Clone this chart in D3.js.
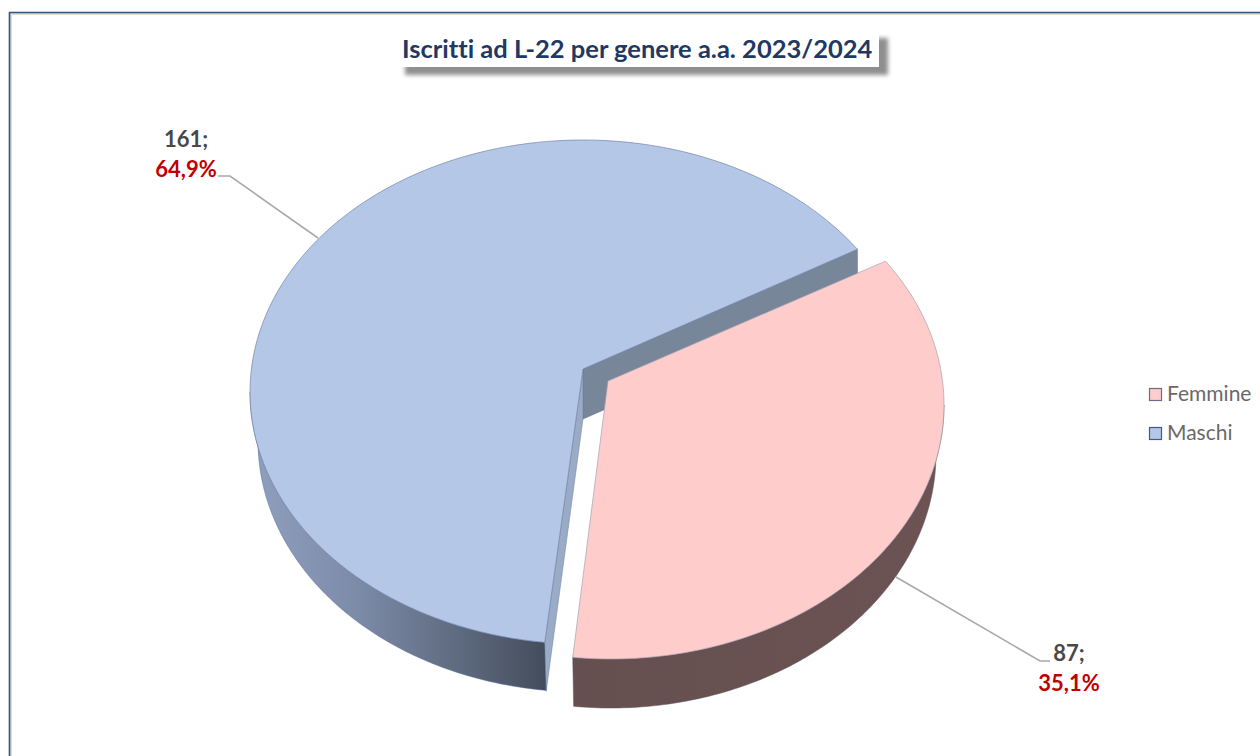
<!DOCTYPE html>
<html>
<head>
<meta charset="utf-8">
<script src="https://cdn.jsdelivr.net/npm/d3@7"></script>
<style>
html,body{margin:0;padding:0;background:#fff;overflow:hidden}
svg{display:block}
text{font-family:Lato,"Open Sans",sans-serif;font-variant-ligatures:none}
</style>
</head>
<body>
<svg id="c" width="1260" height="756"></svg>
<script>
const categories = ["Femmine", "Maschi"];
const values = [87, 161];
const titleText = "Iscritti ad L-22 per genere a.a. 2023/2024";

const svg = d3.select("#c");
const total = d3.sum(values);
const cumulative = [0, ...d3.cumsum(values)];
const deg = Math.PI / 180;

// value -> screen angle on the tilted pie (piecewise because of the 3D perspective)
const angle = d3.scaleLinear().domain(cumulative).range([55.5 * deg, 186.6 * deg, 415.5 * deg]);

const geom = {
  Femmine: {top: {cx: 611, cy: 405, rx: 333, ry: 254}, bot: {cx: 611, cy: 454, rx: 325, ry: 254}, apex: [608, 381]},
  Maschi:  {top: {cx: 583, cy: 392, rx: 333, ry: 252}, bot: {cx: 583, cy: 441, rx: 325, ry: 251}, apex: [583, 369]}
};
const colors = {Femmine: "#ffcccc", Maschi: "#b4c7e7"};
const edge = {Femmine: "#a5a0b0", Maschi: "#7385ad"};
const depth = 50;

const pt = (e, a) => [e.cx + e.rx * Math.sin(a), e.cy - e.ry * Math.cos(a)];
const arcPts = (e, a0, a1) => d3.range(0, 121).map(i => pt(e, a0 + (a1 - a0) * i / 120));
const line = d3.line();

const defs = svg.append("defs");
const blur = defs.append("filter").attr("id", "sh").attr("x", "-5%").attr("y", "-30%").attr("width", "110%").attr("height", "160%");
blur.append("feGaussianBlur").attr("stdDeviation", 2);

const g1 = defs.append("linearGradient").attr("id", "wallM").attr("gradientUnits", "userSpaceOnUse")
  .attr("x1", 250).attr("x2", 545).attr("y1", 0).attr("y2", 0);
[[0, "#8f9fbe"], [0.35, "#7d8ca9"], [0.7, "#5f6b80"], [1, "#444d5c"]].forEach(s => g1.append("stop").attr("offset", s[0]).attr("stop-color", s[1]));
const g2 = defs.append("linearGradient").attr("id", "wallF").attr("gradientUnits", "userSpaceOnUse")
  .attr("x1", 571).attr("x2", 944).attr("y1", 0).attr("y2", 0);
[[0, "#654f4f"], [1, "#6d5353"]].forEach(s => g2.append("stop").attr("offset", s[0]).attr("stop-color", s[1]));

// frame
svg.append("path").attr("d", "M11,756V14H1260").attr("fill", "none").attr("stroke", "#dcdcdc").attr("stroke-width", 2);
svg.append("path").attr("d", "M9.5,756V12.5H1260").attr("fill", "none").attr("stroke", "#2f5480").attr("stroke-width", 1.6);

const aF0 = angle(cumulative[0]), aF1 = angle(cumulative[1]), aM0 = aF1, aM1 = angle(cumulative[2]);
const M = geom.Maschi, F = geom.Femmine;

// Maschi: outer wall
const mWallTop = arcPts(M.top, aM0 - 0.002, 270 * deg);
const mWallBot = arcPts(M.bot, aM0 - 0.002, 270 * deg).reverse();
svg.append("path").attr("d", line([...mWallTop, ...mWallBot]) + "Z")
  .attr("fill", "url(#wallM)").attr("stroke", "#5c6f9c").attr("stroke-width", 0.5);

// Maschi: cut faces
const mA = pt(M.top, aM1), mB = pt(M.top, aM0);
svg.append("path").attr("d", line([M.apex, mA, [mA[0], mA[1] + depth], [M.apex[0], M.apex[1] + depth]]) + "Z")
  .attr("fill", "#788699").attr("stroke", "#5c6f9c").attr("stroke-width", 0.5);
svg.append("path").attr("d", line([M.apex, mB, [mB[0] + 1.5, mB[1] + depth - 1], [M.apex[0], M.apex[1] + depth]]) + "Z")
  .attr("fill", "#9aabc6").attr("stroke", "#6d7fa3").attr("stroke-width", 0.5);

// Maschi: top
svg.append("path").attr("d", line([M.apex, ...arcPts(M.top, aM0, aM1)]) + "Z")
  .attr("fill", colors.Maschi).attr("stroke", edge.Maschi).attr("stroke-width", 0.7);

// Femmine: outer wall
const fWallTop = arcPts(F.top, 90 * deg, aF1);
const fWallBot = arcPts(F.bot, 90 * deg, aF1).reverse();
svg.append("path").attr("d", line([...fWallTop, ...fWallBot]) + "Z")
  .attr("fill", "url(#wallF)").attr("stroke", "#5a5060").attr("stroke-width", 0.5);

// Femmine: top
svg.append("path").attr("d", line([F.apex, ...arcPts(F.top, aF0, aF1)]) + "Z")
  .attr("fill", colors.Femmine).attr("stroke", edge.Femmine).attr("stroke-width", 0.7);

// leader lines
[[[218, 176], [230, 176], [318, 238]], [[1050, 661], [1040, 661], [896, 577]]].forEach(p => {
  svg.append("path").attr("d", line(p)).attr("fill", "none").attr("stroke", "#a9a9a9").attr("stroke-width", 1.6);
});

// data labels
const pct = v => (v / total * 100).toFixed(1).replace(".", ",") + "%";
const labelPos = {Femmine: {x: 1069, y1: 661, y2: 691}, Maschi: {x: 186, y1: 147, y2: 177}};
categories.forEach((c, i) => {
  const p = labelPos[c];
  svg.append("text").attr("x", p.x).attr("y", p.y1).attr("text-anchor", "middle")
    .attr("font-size", 22).attr("font-weight", 700).attr("fill", "#484848").text(values[i] + ";");
  svg.append("text").attr("x", p.x).attr("y", p.y2).attr("text-anchor", "middle")
    .attr("font-size", 22).attr("font-weight", 700).attr("fill", "#c00000").text(pct(values[i]));
});

// title
svg.append("rect").attr("x", 405).attr("y", 38).attr("width", 483).attr("height", 37).attr("fill", "#8f8f8f").attr("filter", "url(#sh)");
svg.append("rect").attr("x", 401).attr("y", 32).attr("width", 478).attr("height", 35).attr("fill", "#fff");
svg.append("text").attr("x", 402).attr("y", 58).attr("font-size", 25.5).attr("font-weight", 700)
  .attr("fill", "#1f3864").text(titleText);

// legend
categories.forEach((c, i) => {
  const y = 388 + i * 39;
  svg.append("rect").attr("x", 1149.5).attr("y", y + 0.5).attr("width", 12).attr("height", 12)
    .attr("fill", colors[c]).attr("stroke", i ? "#3f5a8a" : "#6f6a8a").attr("stroke-width", 1.2);
  svg.append("text").attr("x", 1167).attr("y", y + 13).attr("font-size", 21).attr("fill", "#696969").text(c);
});
</script>
</body>
</html>
